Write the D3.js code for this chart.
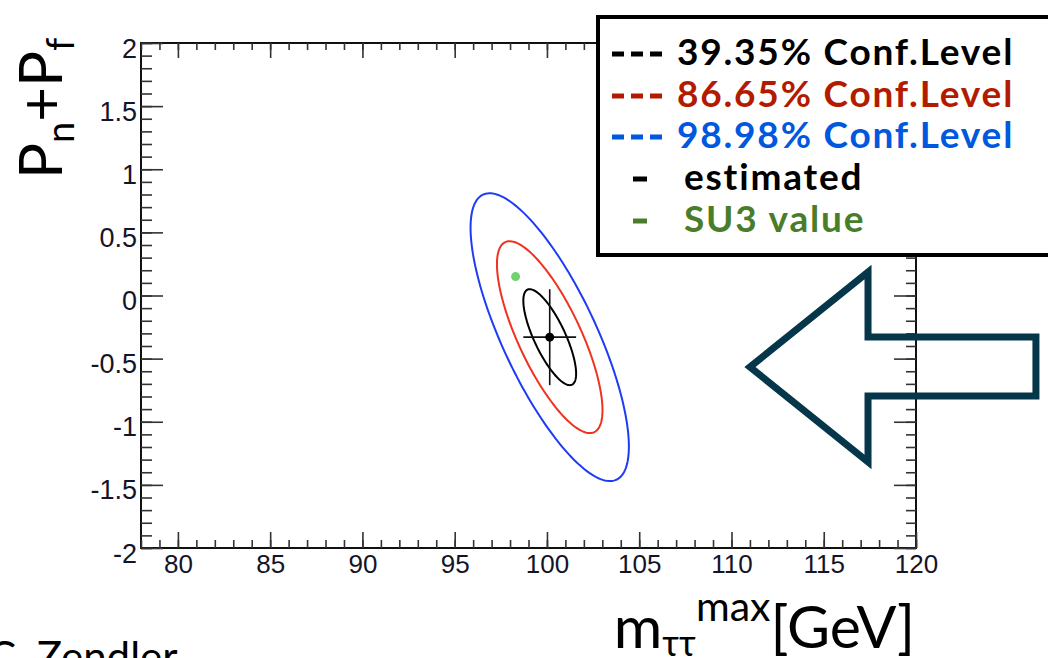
<!DOCTYPE html>
<html>
<head>
<meta charset="utf-8">
<script src="https://cdn.jsdelivr.net/npm/d3@7"></script>
<style>
  html, body { margin: 0; padding: 0; background: #fff; }
  svg { display: block; }
</style>
</head>
<body>
<svg id="chart" width="1048" height="658"></svg>
<script>
// ---------------- data ----------------
const xDomain = [78, 120];
const yDomain = [-2, 2];
const xTickValues = [80, 85, 90, 95, 100, 105, 110, 115, 120];
const xTickLabels = ["80", "85", "90", "95", "100", "105", "110", "115", "120"];
const yTickValues = [-2, -1.5, -1, -0.5, 0, 0.5, 1, 1.5, 2];
const yTickLabels = ["-2", "-1.5", "-1", "-0.5", "0", "0.5", "1", "1.5", "2"];

// estimated point (m_tautau^max, Pn+Pf) with 1-sigma errors
const estimatedPoint = [100.15, -0.33];
const estimatedErrors = [1.43, 0.38];
const correlation = -0.76;
// SU3 reference value
const su3Point = [98.3, 0.15];

// confidence contours
const confLabels = ["39.35% Conf.Level", "86.65% Conf.Level", "98.98% Conf.Level"];
const confSigmas = [1, 2, 3];
const contourColors = ["#000000", "#f0321e", "#1e3cf5"];
const legendColors = ["#000000", "#b31b00", "#0058de"];

const extraLegendLabels = ["estimated", "SU3 value"];
const extraLegendColors = ["#000000", "#4a7d2a"];

// slide arrow annotation (in axis units)
const arrowTip = [111.0, -0.566];
const arrowHeadX = 117.4;
const arrowTailX = 126.5;
const arrowShaftY = [-0.329, -0.796];
const arrowHeadY = [0.186, -1.319];

// ---------------- drawing ----------------
(function () {
const svg = d3.select("#chart");
const pL = 141, pR = 916, pT = 43, pB = 548;

const x = d3.scaleLinear().domain(xDomain).range([pL, pR]);
const y = d3.scaleLinear().domain(yDomain).range([pB, pT]);

const tickColor = "#333";
const labelFont = "'Liberation Sans', Arial, Helvetica, sans-serif";

// frame
svg.append("rect")
  .attr("x", pL).attr("y", pT)
  .attr("width", pR - pL).attr("height", pB - pT)
  .attr("fill", "none").attr("stroke", "#111").attr("stroke-width", 2);

const xMinor = d3.range(78, 121, 1);
const yMinor = d3.range(-20, 21, 1).map(d => d / 10);

function styleAxis(g) {
  g.select(".domain").remove();
  g.selectAll(".tick line").attr("stroke", tickColor).attr("stroke-width", 1.6);
}

// bottom axis major with labels
svg.append("g").attr("transform", `translate(0,${pB})`)
  .call(d3.axisBottom(x).tickValues(xTickValues)
    .tickFormat((d, i) => xTickLabels[i])
    .tickSizeInner(-16).tickSizeOuter(0).tickPadding(7))
  .call(styleAxis)
  .call(g => g.selectAll("text")
    .attr("font-family", labelFont).attr("font-size", 26).attr("fill", "#141428"));
svg.append("g").attr("transform", `translate(0,${pB})`)
  .call(d3.axisBottom(x).tickValues(xMinor).tickFormat("").tickSizeInner(-8).tickSizeOuter(0))
  .call(styleAxis);
// top axis
svg.append("g").attr("transform", `translate(0,${pT})`)
  .call(d3.axisTop(x).tickValues(xTickValues).tickFormat("").tickSizeInner(-15).tickSizeOuter(0))
  .call(styleAxis);
svg.append("g").attr("transform", `translate(0,${pT})`)
  .call(d3.axisTop(x).tickValues(xMinor).tickFormat("").tickSizeInner(-7).tickSizeOuter(0))
  .call(styleAxis);

// left axis
svg.append("g").attr("transform", `translate(${pL},0)`)
  .call(d3.axisLeft(y).tickValues(yTickValues)
    .tickFormat((d, i) => yTickLabels[i])
    .tickSizeInner(-22).tickSizeOuter(0).tickPadding(4))
  .call(styleAxis)
  .call(g => g.selectAll("text")
    .attr("font-family", labelFont).attr("font-size", 27).attr("fill", "#141428")
    .attr("dy", "0.52em"));
svg.append("g").attr("transform", `translate(${pL},0)`)
  .call(d3.axisLeft(y).tickValues(yMinor).tickFormat("").tickSizeInner(-11).tickSizeOuter(0))
  .call(styleAxis);
// right axis
svg.append("g").attr("transform", `translate(${pR},0)`)
  .call(d3.axisRight(y).tickValues(yTickValues).tickFormat("").tickSizeInner(-22).tickSizeOuter(0))
  .call(styleAxis);
svg.append("g").attr("transform", `translate(${pR},0)`)
  .call(d3.axisRight(y).tickValues(yMinor).tickFormat("").tickSizeInner(-10).tickSizeOuter(0))
  .call(styleAxis);

// contours
const angles = d3.range(0, 360, 2).map(a => a * Math.PI / 180);
const line = d3.line().x(d => x(d[0])).y(d => y(d[1])).curve(d3.curveLinearClosed);
const rhoC = Math.sqrt(1 - correlation * correlation);
confSigmas.forEach((k, i) => {
  const pts = angles.map(t => [
    estimatedPoint[0] + k * estimatedErrors[0] * Math.cos(t),
    estimatedPoint[1] + k * estimatedErrors[1] * (correlation * Math.cos(t) + rhoC * Math.sin(t))
  ]);
  svg.append("path").attr("d", line(pts))
    .attr("fill", "none").attr("stroke", contourColors[i]).attr("stroke-width", 2);
});

// error bars
const eb = svg.append("g").attr("stroke", "#111").attr("stroke-width", 1.6);
eb.append("line")
  .attr("x1", x(estimatedPoint[0] - estimatedErrors[0])).attr("x2", x(estimatedPoint[0] + estimatedErrors[0]))
  .attr("y1", y(estimatedPoint[1])).attr("y2", y(estimatedPoint[1]));
eb.append("line")
  .attr("x1", x(estimatedPoint[0])).attr("x2", x(estimatedPoint[0]))
  .attr("y1", y(estimatedPoint[1] - estimatedErrors[1])).attr("y2", y(estimatedPoint[1] + estimatedErrors[1]));
svg.append("circle").attr("cx", x(estimatedPoint[0])).attr("cy", y(estimatedPoint[1]))
  .attr("r", 4.5).attr("fill", "#000");
svg.append("circle").attr("cx", x(su3Point[0])).attr("cy", y(su3Point[1]))
  .attr("r", 4.5).attr("fill", "#6fd46f");

// arrow annotation
const arrowPts = [
  arrowTip,
  [arrowHeadX, arrowHeadY[0]],
  [arrowHeadX, arrowShaftY[0]],
  [arrowTailX, arrowShaftY[0]],
  [arrowTailX, arrowShaftY[1]],
  [arrowHeadX, arrowShaftY[1]],
  [arrowHeadX, arrowHeadY[1]]
];
svg.append("path").attr("d", line(arrowPts))
  .attr("fill", "none").attr("stroke", "#05364a").attr("stroke-width", 7)
  .attr("stroke-linejoin", "miter").attr("stroke-miterlimit", 10);

// legend
const lg = svg.append("g");
lg.append("rect").attr("x", 598).attr("y", 17).attr("width", 480).attr("height", 238)
  .attr("fill", "#fff").attr("stroke", "#000").attr("stroke-width", 4);
const legendFont = "Lato, 'Open Sans', sans-serif";
const rowY = [65, 107, 148, 190, 232];
confLabels.forEach((lab, i) => {
  lg.append("line").attr("x1", 612).attr("x2", 663)
    .attr("y1", rowY[i] - 11).attr("y2", rowY[i] - 11)
    .attr("stroke", legendColors[i]).attr("stroke-width", 5)
    .attr("stroke-dasharray", "12,7");
  lg.append("text").attr("x", 677).attr("y", rowY[i])
    .attr("font-family", legendFont).attr("font-weight", 700).attr("font-size", 37)
    .attr("letter-spacing", 1.8)
    .attr("fill", legendColors[i]).text(lab);
});
extraLegendLabels.forEach((lab, i) => {
  lg.append("line").attr("x1", 633).attr("x2", 647)
    .attr("y1", rowY[3 + i] - 11).attr("y2", rowY[3 + i] - 11)
    .attr("stroke", extraLegendColors[i]).attr("stroke-width", 5);
  lg.append("text").attr("x", 684).attr("y", rowY[3 + i])
    .attr("font-family", legendFont).attr("font-weight", 700).attr("font-size", 37)
    .attr("letter-spacing", 1.8)
    .attr("fill", extraLegendColors[i]).text(lab);
});

// axis titles
const titleFont = "Lato, 'Open Sans', sans-serif";
const xt = svg.append("text").attr("x", 915).attr("y", 648).attr("text-anchor", "end")
  .attr("font-family", titleFont).attr("font-size", 59).attr("fill", "#000");
xt.append("tspan").text("m");
xt.append("tspan").attr("font-size", 36).attr("dy", 8).text("ττ");
xt.append("tspan").attr("font-size", 41).attr("dy", -35).text("max");
xt.append("tspan").attr("dy", 27).text("[GeV]");

const yt = svg.append("text").attr("transform", "translate(62,179) rotate(-90)")
  .attr("font-family", titleFont).attr("font-size", 60).attr("fill", "#000");
yt.append("tspan").text("P");
yt.append("tspan").attr("font-size", 38).attr("dy", 12).text("n");
yt.append("tspan").attr("dy", -12).text("+P");
yt.append("tspan").attr("font-size", 38).attr("dy", 12).text("f");

// author
svg.append("text").attr("x", -12).attr("y", 672)
  .attr("font-family", titleFont).attr("font-size", 42).attr("fill", "#000")
  .text("C. Zendler");
})();
</script>
</body>
</html>
